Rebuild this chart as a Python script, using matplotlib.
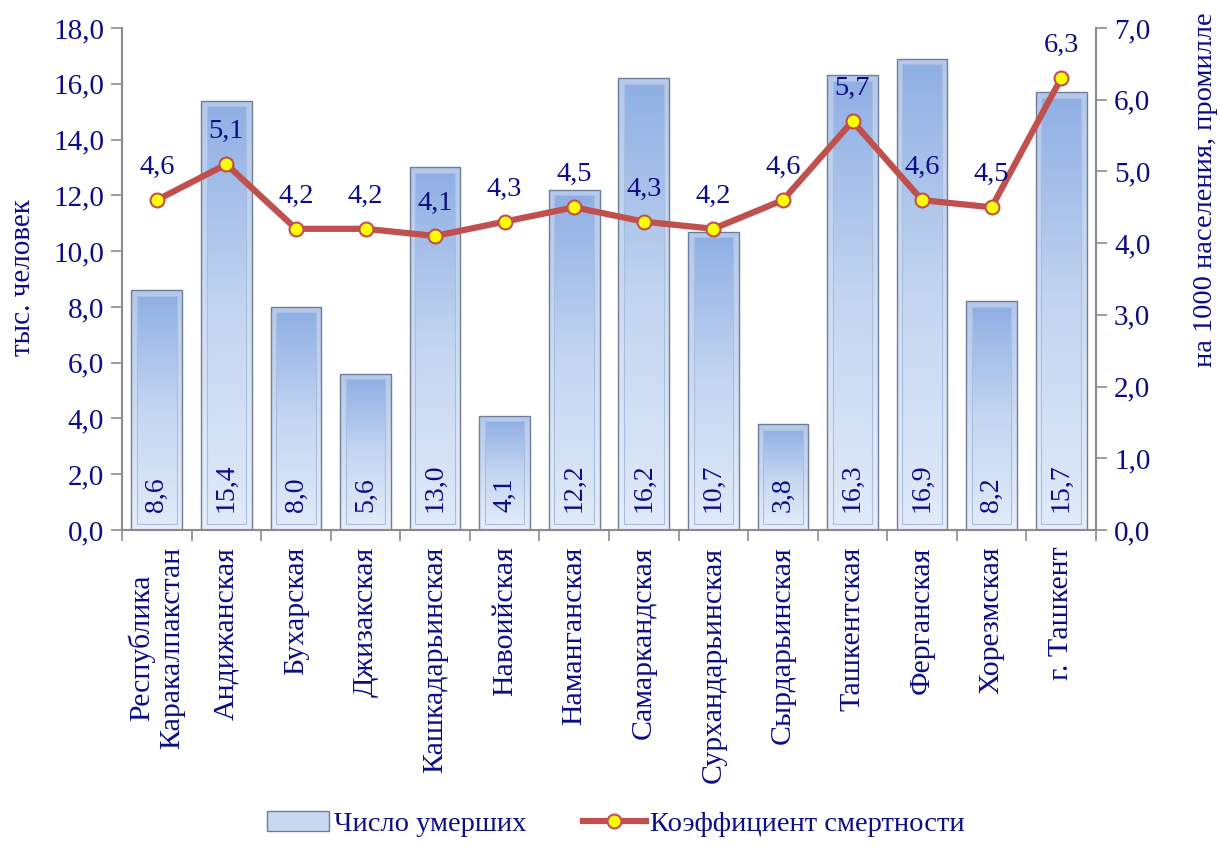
import matplotlib
matplotlib.use("Agg")
import matplotlib.pyplot as plt
import numpy as np
from matplotlib.patches import Patch, Rectangle
from matplotlib.lines import Line2D
from matplotlib.ticker import FixedLocator, FuncFormatter
from matplotlib.colors import LinearSegmentedColormap

categories = ["Республика\nКаракалпакстан", "Андижанская", "Бухарская", "Джизакская",
              "Кашкадарьинская", "Навоийская", "Наманганская", "Самаркандская",
              "Сурхандарьинская", "Сырдарьинская", "Ташкентская", "Ферганская",
              "Хорезмская", "г. Ташкент"]
deaths = [8.6, 15.4, 8.0, 5.6, 13.0, 4.1, 12.2, 16.2, 10.7, 3.8, 16.3, 16.9, 8.2, 15.7]
rate = [4.6, 5.1, 4.2, 4.2, 4.1, 4.3, 4.5, 4.3, 4.2, 4.6, 5.7, 4.6, 4.5, 6.3]
left_ticks = [0, 2, 4, 6, 8, 10, 12, 14, 16, 18]
right_ticks = [0, 1, 2, 3, 4, 5, 6, 7]

NAVY = "#0C0C84"
RED = "#C0504D"
SPINE = "#8C8C8C"

plt.rcParams['font.family'] = ['Liberation Serif', 'DejaVu Serif']

fig = plt.figure(figsize=(12.19, 8.5), dpi=100)
ax = fig.add_axes([122/1219, 1-530/850, (1096-122)/1219, (530-28)/850])
ax2 = ax.twinx()

x = np.arange(len(categories))
bw = 0.73
bars = ax.bar(x, deaths, width=bw, facecolor='none', edgecolor='#6E7E98', linewidth=1.0, zorder=2)

grad = np.linspace(0, 1, 256).reshape(-1, 1)
cm_outer = LinearSegmentedColormap.from_list("o", ["#E6EEFA", "#B4C9EB"])
cm_inner = LinearSegmentedColormap.from_list("i", ["#E0EAF9", "#C4D6F1", "#8FAFE4"])
xin = 0.08
yin = 0.2
for b in bars:
    x0, y0 = b.get_x(), b.get_y()
    w, h = b.get_width(), b.get_height()
    im = ax.imshow(grad, extent=[x0, x0 + w, y0, y0 + h], origin='lower',
                   cmap=cm_outer, aspect='auto', zorder=1.5)
    im.set_clip_path(b)
    r = Rectangle((x0 + xin, y0 + yin), w - 2 * xin, h - 2 * yin, facecolor='none',
                  edgecolor='#A9BEDF', linewidth=0.8, zorder=1.8)
    ax.add_patch(r)
    im2 = ax.imshow(grad, extent=[x0 + xin, x0 + w - xin, y0 + yin, y0 + h - yin],
                    origin='lower', cmap=cm_inner, aspect='auto', zorder=1.7)
    im2.set_clip_path(r)

for xi, v in zip(x, deaths):
    ax.text(xi, 0.65, f"{v:.1f}".replace('.', ','), rotation=90, ha='center', va='bottom',
            color=NAVY, fontsize=20, zorder=3)

ax.set_xlim(-0.5, len(categories) - 0.5)
ax.set_ylim(0, 18)
ax2.set_ylim(0, 7)

ax2.plot(x, rate, color=RED, linewidth=4.5, marker='o', markersize=10,
         markerfacecolor='#FFFF00', markeredgecolor=RED, markeredgewidth=1.5, zorder=4)
for xi, v in zip(x, rate):
    ax2.text(xi, v + 0.28, f"{v:.1f}".replace('.', ','), ha='center', va='bottom',
             color=NAVY, fontsize=20.5, zorder=5)

fmt = FuncFormatter(lambda v, p: f"{v:.1f}".replace('.', ','))
ax.yaxis.set_major_locator(FixedLocator(left_ticks))
ax.yaxis.set_major_formatter(fmt)
ax2.yaxis.set_major_locator(FixedLocator(right_ticks))
ax2.yaxis.set_major_formatter(fmt)

ax.set_xticks(x)
ax.set_xticklabels(categories, rotation=90, ha='center', va='top', multialignment='center',
                   fontsize=21.5, color=NAVY)
ax.tick_params(axis='x', which='major', length=0, pad=12)
ax.set_xticks(np.arange(-0.5, len(categories), 1.0), minor=True)
ax.tick_params(axis='x', which='minor', length=8, color=SPINE, width=1.2)

ax.tick_params(axis='y', length=8, color=SPINE, width=1.2, labelsize=21, labelcolor=NAVY, pad=5)
ax2.tick_params(axis='y', length=8, color=SPINE, width=1.2, labelsize=21, labelcolor=NAVY, pad=5)

for a in (ax, ax2):
    a.spines['top'].set_visible(False)
    for s in ('left', 'right', 'bottom'):
        a.spines[s].set_color(SPINE)
        a.spines[s].set_linewidth(1.5)

fig.text(23/1219, 1 - 278/850, "тыс. человек", rotation=90, ha='center', va='center',
         color=NAVY, fontsize=21)
fig.text(1205/1219, 1 - 12/850, "на 1000 населения, промилле", rotation=90, ha='center',
         va='top', color=NAVY, fontsize=20.5)

handles = [Patch(facecolor='#C9D9F2', edgecolor='#6E7E98', linewidth=1.0),
           Line2D([0], [0], color=RED, linewidth=4.5, marker='o', markersize=10,
                  markerfacecolor='#FFFF00', markeredgecolor=RED, markeredgewidth=1.5)]
fig.legend(handles, ["Число умерших", "Коэффициент смертности"], loc='lower center',
           bbox_to_anchor=(0.505, -0.015), ncol=2, frameon=False, fontsize=20.5,
           labelcolor=NAVY, handlelength=2.2, handletextpad=0.15, columnspacing=2.0)

fig.savefig("out.png", dpi=100)
